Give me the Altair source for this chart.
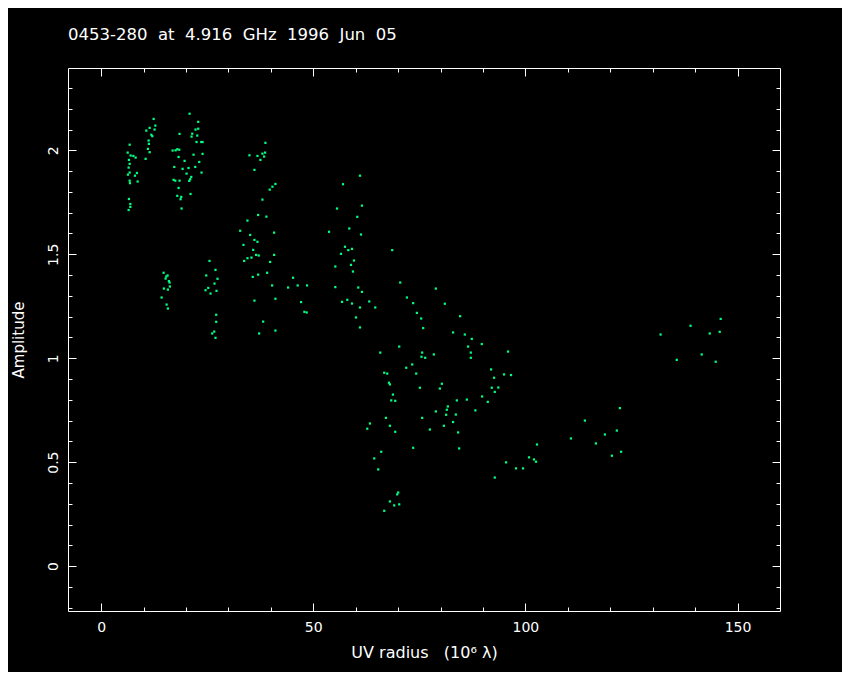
import altair as alt
import pandas as pd

# ---- data ----
uv_radius = [
    12.38, 12.78, 11.44, 10.66, 12.61, 11.84, 12.07, 11.20, 11.27, 6.73,
    11.04, 11.44, 6.26, 6.96, 7.60, 8.14, 6.56, 10.49, 6.73, 6.49,
    6.73, 6.33, 8.45, 7.98, 6.73, 6.80, 8.61, 6.56, 6.89, 6.89, 6.49,
    20.85, 22.89, 22.26, 22.89, 18.49, 21.48, 21.32, 22.66, 22.49, 23.60, 23.91,
    16.85, 17.55, 17.95, 18.42, 21.79, 23.91, 18.26, 19.67, 23.13,
    17.25, 19.20, 20.61, 22.19, 20.14, 23.67, 21.25, 21.01, 20.78,
    17.08, 17.48, 18.49, 18.26, 21.08, 17.95, 18.89, 18.73, 18.96,
    38.73, 34.96, 36.85, 38.02, 38.66, 38.42, 37.55, 36.14, 41.08, 40.38,
    39.74, 38.02, 37.01, 38.96, 34.49, 32.78, 35.13, 36.14, 36.85, 40.78,
    33.55, 35.84, 34.49, 35.44, 36.54, 37.15, 40.78, 33.72, 39.84, 35.74,
    37.01, 39.13, 40.31, 45.25, 44.07, 46.33, 36.14, 41.08, 38.19, 37.25, 41.08,
    14.73, 15.36, 15.67, 15.20, 15.98, 16.14, 14.80, 15.74, 16.21, 14.26, 15.44, 15.74,
    25.55, 26.96, 24.78, 27.44, 26.73, 25.25, 24.61, 27.20, 25.79, 27.13,
    27.13, 26.66, 26.19, 26.96,
    61.01, 57.01, 61.48, 55.60, 60.38, 58.49, 53.72, 61.25, 57.48, 58.26,
    59.13, 56.54, 68.61, 59.60, 58.89, 55.20, 59.36, 48.54, 55.20, 60.61,
    61.48, 47.13, 56.78, 58.02, 59.13, 63.20, 64.61, 61.01, 47.91, 48.45,
    60.07, 61.01,
    70.49, 78.89, 72.07, 73.55, 81.01, 74.42, 75.44, 75.91, 84.61, 82.96,
    85.72, 87.36, 89.72, 86.49, 87.13, 87.13, 95.91, 65.79, 70.26, 75.67,
    75.51, 76.38, 78.42,
    73.32, 71.91, 66.73, 67.44, 74.26, 91.91, 92.61, 94.96, 96.61, 67.84,
    68.07, 80.31, 75.13, 79.84, 92.07, 93.62, 92.78, 68.78, 68.38, 69.32,
    83.84, 86.19, 89.79, 91.13, 81.72, 81.48, 88.21, 78.89, 81.32, 83.60,
    75.67, 67.13, 63.36, 62.73, 68.07, 69.32, 77.48, 80.78, 82.96, 84.14,
    73.55, 84.38, 66.02, 64.38, 65.32, 70.02, 69.79, 68.07, 70.26, 69.08, 66.73,
    122.26, 114.02, 121.55, 118.73, 110.73, 116.61, 122.56, 120.38,
    102.73, 100.85, 102.02, 102.49, 95.44, 97.79, 99.44, 92.78,
    146.02, 138.92, 131.86, 143.44, 145.79, 141.55, 135.67, 144.85,
]

amplitude = [
    2.151, 2.119, 2.108, 2.095, 2.100, 2.075, 2.068, 2.047, 2.031, 2.027,
    2.007, 1.991, 1.989, 1.975, 1.973, 1.965, 1.954, 1.959, 1.935, 1.917,
    1.893, 1.883, 1.891, 1.878, 1.854, 1.842, 1.850, 1.766, 1.742, 1.728, 1.713,
    2.176, 2.137, 2.100, 2.104, 2.079, 2.080, 2.066, 2.071, 2.040, 2.040, 2.040,
    1.999, 2.000, 2.005, 2.003, 1.979, 1.983, 1.968, 1.949, 1.944,
    1.920, 1.911, 1.915, 1.920, 1.888, 1.893, 1.872, 1.861, 1.853,
    1.858, 1.854, 1.854, 1.819, 1.790, 1.781, 1.776, 1.765, 1.720,
    2.036, 1.976, 1.973, 1.984, 1.989, 1.970, 1.954, 1.906, 1.838, 1.825,
    1.811, 1.763, 1.689, 1.681, 1.662, 1.613, 1.593, 1.569, 1.560, 1.604,
    1.545, 1.521, 1.481, 1.484, 1.497, 1.494, 1.497, 1.468, 1.463, 1.391,
    1.402, 1.411, 1.350, 1.387, 1.340, 1.350, 1.277, 1.286, 1.176, 1.119, 1.133,
    1.411, 1.393, 1.398, 1.383, 1.371, 1.364, 1.335, 1.330, 1.345, 1.292, 1.258, 1.239,
    1.468, 1.425, 1.398, 1.382, 1.359, 1.338, 1.327, 1.324, 1.311, 1.209,
    1.175, 1.128, 1.119, 1.098,
    1.878, 1.837, 1.734, 1.720, 1.680, 1.624, 1.608, 1.595, 1.536, 1.520,
    1.526, 1.502, 1.520, 1.470, 1.449, 1.441, 1.417, 1.350, 1.342, 1.340,
    1.319, 1.270, 1.271, 1.281, 1.263, 1.273, 1.244, 1.244, 1.223, 1.220,
    1.196, 1.148,
    1.364, 1.335, 1.292, 1.265, 1.262, 1.218, 1.191, 1.145, 1.202, 1.124,
    1.114, 1.093, 1.068, 1.056, 1.027, 1.002, 1.032, 1.027, 1.056, 1.027,
    1.007, 1.002, 1.018,
    0.970, 0.954, 0.930, 0.926, 0.926, 0.946, 0.906, 0.922, 0.919, 0.882,
    0.874, 0.877, 0.858, 0.854, 0.858, 0.859, 0.838, 0.825, 0.797, 0.795,
    0.797, 0.801, 0.816, 0.790, 0.768, 0.752, 0.749, 0.744, 0.728, 0.729,
    0.713, 0.713, 0.686, 0.661, 0.675, 0.646, 0.657, 0.675, 0.693, 0.643,
    0.569, 0.566, 0.550, 0.518, 0.465, 0.354, 0.345, 0.311, 0.297, 0.292, 0.266,
    0.760, 0.700, 0.652, 0.633, 0.614, 0.590, 0.550, 0.531,
    0.585, 0.523, 0.513, 0.502, 0.499, 0.470, 0.470, 0.426,
    1.189, 1.156, 1.114, 1.119, 1.127, 1.018, 0.992, 0.983,
]

x_major = [0, 50, 100, 150]
x_minor = [0, 10, 20, 30, 40, 50, 60, 70, 80, 90, 100, 110, 120, 130, 140, 150]
y_major = [0, 0.5, 1, 1.5, 2]
y_minor = [-0.2, -0.1, 0, 0.1, 0.2, 0.3, 0.4, 0.5, 0.6, 0.7, 0.8, 0.9, 1.0,
           1.1, 1.2, 1.3, 1.4, 1.5, 1.6, 1.7, 1.8, 1.9, 2.0, 2.1, 2.2, 2.3]
x_domain = [-7.8, 160]
y_domain = [-0.216, 2.396]

NB = "\u00a0"
title_text = NB.join(["0453-280", "", "at", "", "4.916", "", "GHz", "", "1996", "", "Jun", "", "05"])
x_title = "UV" + NB + "radius" + NB * 3 + "(10\u2076" + NB + "\u03bb)"
y_title = "Amplitude"

df = pd.DataFrame({"uv": uv_radius, "amp": amplitude})

FONT = "DejaVu Sans"
FG = "white"
GREEN = "#00ff80"
MAJ = 8
MIN = 4

xs = alt.Scale(domain=x_domain, nice=False, zero=False)
ys = alt.Scale(domain=y_domain, nice=False, zero=False)


def axis(orient, values, size, **kw):
    return alt.Axis(orient=orient, values=values, tickSize=size, offset=-size,
                    domain=False, grid=False, ticks=True, tickColor=FG,
                    tickWidth=1, labelFlush=False, **kw)


no_lab = dict(labels=False, title=None)

bottom_major = axis("bottom", x_major, MAJ, labels=True, labelColor=FG,
                    labelFont=FONT, labelFontSize=14, labelPadding=9,
                    format="d",
                    title=x_title, titleColor=FG, titleFont=FONT,
                    titleFontSize=16, titleFontWeight="normal",
                    titleBaseline="alphabetic", titlePadding=23)
left_major = axis("left", y_major, MAJ, labels=True, labelColor=FG,
                  labelFont=FONT, labelFontSize=14, labelPadding=11,
                  labelAngle=270, labelAlign="center",
                  labelBaseline="alphabetic", format="~g",
                  title=y_title, titleColor=FG, titleFont=FONT,
                  titleFontSize=15, titleFontWeight="normal",
                  titleBaseline="alphabetic", titlePadding=23)

base = alt.Chart(df)

points = base.mark_square(size=5, color=GREEN, opacity=1).encode(
    x=alt.X("uv:Q", scale=xs, axis=bottom_major),
    y=alt.Y("amp:Q", scale=ys, axis=left_major),
)
minor_bl = base.mark_square(size=1, opacity=0).encode(
    x=alt.X("uv:Q", scale=xs, axis=axis("bottom", x_minor, MIN, **no_lab)),
    y=alt.Y("amp:Q", scale=ys, axis=axis("left", y_minor, MIN, **no_lab)),
)
major_tr = base.mark_square(size=1, opacity=0).encode(
    x=alt.X("uv:Q", scale=xs, axis=axis("top", x_major, MAJ, **no_lab)),
    y=alt.Y("amp:Q", scale=ys, axis=axis("right", y_major, MAJ, **no_lab)),
)
minor_tr = base.mark_square(size=1, opacity=0).encode(
    x=alt.X("uv:Q", scale=xs, axis=axis("top", x_minor, MIN, **no_lab)),
    y=alt.Y("amp:Q", scale=ys, axis=axis("right", y_minor, MIN, **no_lab)),
)

chart = (
    alt.layer(minor_bl, major_tr, minor_tr, points)
    .resolve_axis(x="independent", y="independent")
    .properties(
        width=712,
        height=543,
        title=alt.Title(title_text, anchor="start", frame="group", offset=11,
                        baseline="alphabetic", fontSize=16.5, color=FG,
                        font=FONT, fontWeight="normal"),
        background="black",
        padding={"left": 60, "top": 60, "right": 62, "bottom": 61},
        autosize=alt.AutoSizeParams(type="none"),
        usermeta={"embedOptions": {"defaultStyle": "html,body{background:#000;}"}},
    )
    .configure(font=FONT)
    .configure_view(stroke=FG, strokeWidth=1)
)

chart.save("out.html", embed_options={"renderer": "svg", "actions": False})
